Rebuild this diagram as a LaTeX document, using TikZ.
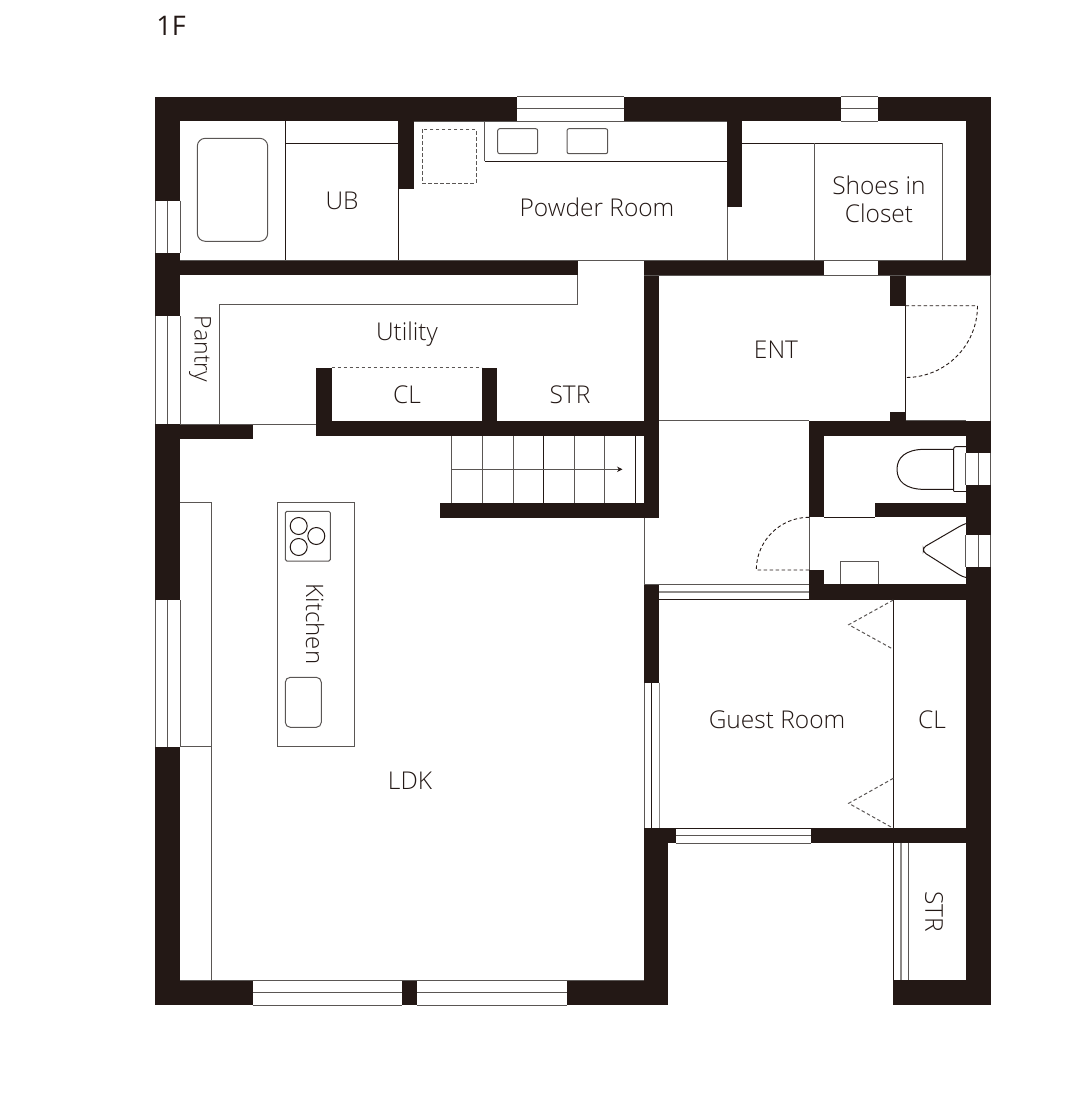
\documentclass[tikz,border=0pt]{standalone}
\usepackage{fontspec}
\setmainfont{Open Sans Light}
\newfontfamily\regfont{Open Sans}
\usetikzlibrary{arrows.meta}
\definecolor{ink}{HTML}{231815}
\definecolor{gline}{HTML}{5A5654}
\definecolor{lgline}{HTML}{8E8B89}
\newcommand{\wl}[4]{\fill[ink] (#1,#2) rectangle (#3,#4);}
\newcommand{\hwin}[4]{\draw[gl] (#1,#3) -- (#2,#3) (#1,{(#3+#4)/2}) -- (#2,{(#3+#4)/2}) (#1,#4) -- (#2,#4);}
\newcommand{\vwin}[4]{\draw[gl] (#1,#3) -- (#1,#4) ({(#1+#2)/2},#3) -- ({(#1+#2)/2},#4) (#2,#3) -- (#2,#4);}
\tikzset{
  bl/.style={draw=ink,line width=1pt},
  gl/.style={draw=gline,line width=1pt},
  dl/.style={draw=gline,line width=1pt,dash pattern=on 3.5pt off 2.5pt},
  lbl/.style={text=ink,font=\fontsize{24.5}{28}\selectfont,inner sep=0pt,align=center}
}
\begin{document}
\begin{tikzpicture}[x=1pt,y=-1pt]
\useasboundingbox (0,0) rectangle (1080,1100);
% ---- outer walls
\wl{155.3}{96.5}{517}{121}
\wl{623.7}{96.5}{840.7}{121}
\wl{877.7}{96.5}{990.7}{121}
\wl{155.3}{96.5}{180}{200.7}
\wl{155.3}{253.3}{180}{316}
\wl{155.3}{424}{180}{600}
\wl{155.3}{746.7}{180}{1005}
\wl{155.3}{980}{252.7}{1005}
\wl{402.3}{980}{417.3}{1005}
\wl{566.7}{980}{668.3}{1005}
\wl{644}{828.3}{668.3}{1005}
\wl{893.3}{980}{990.7}{1005}
\wl{965.8}{96.5}{990.7}{275.3}
\wl{965.8}{420.7}{990.7}{453.3}
\wl{965.8}{485}{990.7}{535}
\wl{965.8}{566.7}{990.7}{1005}
% ---- inner walls
\wl{180}{260}{577.7}{275.3}
\wl{643.7}{260}{824.3}{275.3}
\wl{877.7}{260}{990.7}{275.3}
\wl{398.4}{121}{413.7}{189}
\wl{727}{121}{742.3}{206.7}
\wl{155.3}{424}{252.7}{439.3}
\wl{316}{367.7}{331.7}{436}
\wl{481.7}{367.7}{497.3}{436}
\wl{316}{420.7}{659.3}{436}
\wl{644}{260}{659.3}{517.7}
\wl{440}{502.7}{659.3}{517.7}
\wl{890.3}{275}{905.7}{305.7}
\wl{890.3}{412.3}{905.7}{421}
\wl{809}{420.7}{990.7}{436}
\wl{809}{420.7}{824.3}{517.3}
\wl{875.3}{502.5}{966}{517.3}
\wl{809}{570}{824.3}{600}
\wl{809}{584}{966}{599.7}
\wl{644}{584}{659.3}{682.7}
\wl{644}{828.3}{676}{843.3}
\wl{810.7}{828.3}{966}{843.3}
% ---- windows
\hwin{517}{623.7}{96.5}{121}
\hwin{840.7}{877.7}{96.5}{121}
\vwin{155.3}{180}{200.7}{253.3}
\vwin{155.3}{180}{316}{424}
\vwin{155.3}{180}{600}{746.7}
\hwin{252.7}{402.3}{980}{1005}
\hwin{417.3}{566.7}{980}{1005}
\vwin{965.8}{990.7}{453.3}{485}
\vwin{965.8}{990.7}{535}{566.7}
\hwin{659.3}{809}{584}{599.7}
\draw[draw=lgline,line width=1.6pt] (659.3,591.8) -- (809,591.8);
\draw[bl] (659.3,599.7) -- (809,599.7);
\vwin{644}{659.3}{682.7}{828.3}
\draw[bl] (651.7,682.7) -- (651.7,828.3);
\draw[draw=lgline,line width=1.6pt] (659.3,682.7) -- (659.3,828.3);
\hwin{676}{810.7}{828.3}{843.3}
\draw[bl] (676,828.3) -- (810.7,828.3);
% ---- bath / UB
\draw[bl] (285.3,121) -- (285.3,260);
\draw[bl] (285.3,143.3) -- (398.4,143.3);
\draw[bl] (398.7,189) -- (398.7,260);
\draw[gl,rounded corners=8pt] (197.3,138.3) rectangle (267.7,241.3);
% ---- powder room
\draw[dl] (422,129.3) rectangle (476,183);
\draw[gl] (484.7,121) -- (484.7,161.3);
\draw[bl] (484.7,161.3) -- (727,161.3);
\draw[gl] (413.7,121) -- (727,121);
\draw[gl,rounded corners=2pt] (497.7,128.7) rectangle (537.7,153.7);
\draw[gl,rounded corners=2pt] (567,128.7) rectangle (607.7,153.7);
\draw[gl] (727.5,206.7) -- (727.5,260);
\draw[gl] (180,260) -- (965.8,260);
% ---- shoes in closet
\draw[bl] (742.3,143.3) -- (942.3,143.3);
\draw[gl] (942.3,143.3) -- (942.3,260);
\draw[gl] (814.3,143.3) -- (814.3,260);
% ---- utility
\draw[gl] (644,275.3) -- (990.7,275.3);
\draw[gl] (577.7,275.3) -- (577.7,304) -- (219.7,304) -- (219.7,424);
\draw[gl] (180,424) -- (316,424);
\draw[dl] (331.7,367.7) -- (481.7,367.7);
% ---- entrance
\draw[gl] (990.5,275.3) -- (990.5,420.7);
\draw[bl] (905.7,305.7) -- (905.7,412.3);
\draw[dl,draw=ink,line width=0.9pt] (905.7,305.7) -- (977.5,305.7) .. controls (977.5,345.5) and (945.5,377.5) .. (905.7,377.5);
\draw[gl] (659.3,420.7) -- (809,420.7);
\draw[gl] (905.7,420.7) -- (966,420.7);
% ---- stairs
\foreach \sx in {451.7,482.3,513.3,574.3,604.7}{\draw[gl] (\sx,436) -- (\sx,502.7);}
\foreach \sx in {543.7,635.3}{\draw[bl] (\sx,436) -- (\sx,502.7);}
\draw[gl,-{Stealth[length=5.5pt,width=5.5pt,color=ink]}] (451.7,469.3) -- (622.5,469.3);
% ---- hall, toilet, wash
\draw[gl] (644,517.7) -- (644,584) -- (809,584);
\draw[gl] (809.3,517.3) -- (809.3,570);
\draw[dl,draw=ink,line width=0.9pt] (809,517.3) .. controls (780,517.3) and (756.3,541) .. (756.3,570) -- (809,570);
\draw[bl] (824.3,517.3) -- (875.3,517.3);
\draw[bl] (953.7,449.3) -- (925,449.3) .. controls (905,449.3) and (897,458) .. (897,469.3) .. controls (897,481) and (905,489.4) .. (925,489.4) -- (953.7,489.4);
\draw[bl,rounded corners=2pt] (966,446.7) -- (953.7,446.7) -- (953.7,491.3);
\draw[bl] (953.7,491) -- (966,491);
\draw[bl,rounded corners=3pt] (966.3,523.5) -- (962,525) -- (923.3,547.5) -- (923.3,552) -- (962,576.5) -- (966.3,577.5);
\draw[gl] (840.3,584) -- (840.3,561.7) -- (878.3,561.7) -- (878.3,584);
% ---- guest room
\draw[bl] (893.3,600) -- (893.3,828.3);
\draw[dl] (893.3,600) -- (848.7,624.7) -- (893.3,649.3);
\draw[dl] (893.3,778.3) -- (848.7,803.3) -- (893.3,828.3);
\draw[bl] (893.3,843.3) -- (893.3,980);
\draw[draw=lgline,line width=1.6pt] (901,843.3) -- (901,980);
\draw[gl] (908,843.3) -- (908,980);
% ---- kitchen
\draw[gl] (180,502.7) -- (211.3,502.7) -- (211.3,980);
\draw[gl] (180,746.7) -- (211.3,746.7);
\draw[gl] (180,980) -- (644,980);
\draw[gl] (277.3,502.7) rectangle (354.3,746.7);
\draw[gl,rounded corners=1.5pt] (285.3,511.3) rectangle (330.3,561);
\draw[bl] (298.7,526) circle[radius=8.5pt];
\draw[bl] (316.3,536) circle[radius=8.5pt];
\draw[bl] (298.7,547) circle[radius=8.5pt];
\draw[gl,rounded corners=5pt] (285.3,677.3) rectangle (321.3,727.3);
% ---- labels
\node[lbl,font=\regfont\fontsize{27}{30}\selectfont] (t1f) at (171,26) {1F};
\node[lbl] (tub) at (342,201) {UB};
\node[lbl] (tpr) at (597,207) {Powder Room};
\node[lbl] (tsc) at (879,199.5) {Shoes in\\Closet};
\node[lbl] (tut) at (407,334.5) {Utility};
\node[lbl] (tcl1) at (407,395) {CL};
\node[lbl] (tstr1) at (570,395) {STR};
\node[lbl] (tent) at (776,350) {ENT};
\node[lbl,font=\fontsize{23}{28}\selectfont,rotate=-90] (tpa) at (200,349) {Pantry};
\node[lbl,font=\fontsize{24}{28}\selectfont,rotate=-90] (tki) at (315,624) {Kitchen};
\node[lbl] (tldk) at (410,781) {LDK};
\node[lbl] (tgr) at (777,720) {Guest Room};
\node[lbl] (tcl2) at (932,720) {CL};
\node[lbl,rotate=-90] (tstr2) at (934,912) {STR};
\end{tikzpicture}
\end{document}
